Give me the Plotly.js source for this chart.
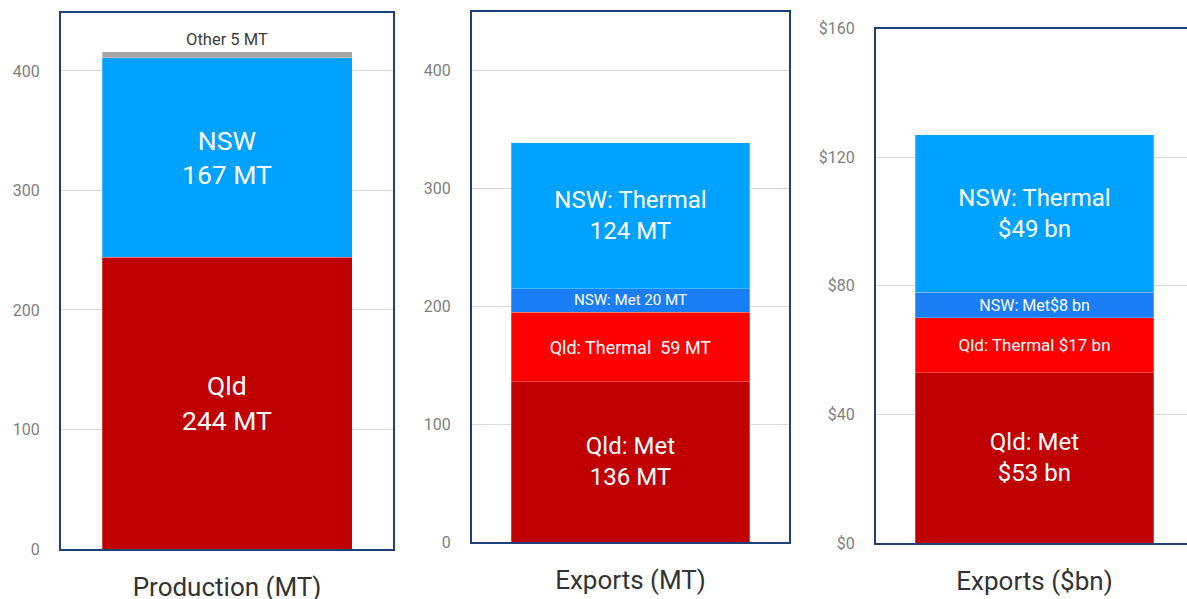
<!DOCTYPE html>
<html><head><meta charset="utf-8">
<script src="https://cdn.plot.ly/plotly-3.0.1.min.js"></script>
<style>html,body{margin:0;padding:0;background:#fff}#chart{width:1187px;height:599px}</style>
</head><body><div id="chart"></div>
<script>
// ---- data ----
const panelTitles = ["Production (MT)", "Exports (MT)", "Exports ($bn)"];

const prodNames = ["Qld", "NSW", "Other"];
const prodValues = [244, 167, 5];

const exportNames = ["Qld: Met", "Qld: Thermal", "NSW: Met", "NSW: Thermal"];
const exportMtValues = [136, 59, 20, 124];
const exportBnValues = [53, 17, 8, 49];

// ---- styles ----
const prodColors = ["#c00000", "#00a2ff", "#a6a6a6"];
const exportColors = ["#c00000", "#ff0000", "#1a7ef7", "#00a2ff"];
const prodSep = ["<br>", "<br>", " "];
const prodSize = [26.5, 26.5, 16.5];
const expMtSep = ["<br>", "  ", " ", "<br>"];
const expBnSep = ["<br>", " ", "", "<br>"];
const expMtSize = [24, 18, 15.5, 24];
const expBnSize = [24, 17, 16, 24];
const FONT = "Roboto, sans-serif";
const BW = 0.753;

const traces = [];
prodNames.forEach((n, i) => {
  const isOther = n === "Other";
  traces.push({
    type: "bar", x: [panelTitles[0]], y: [prodValues[i]], name: n,
    xaxis: "x", yaxis: "y", width: BW,
    marker: {color: prodColors[i], line: {color: "rgba(255,255,255,0.5)", width: 0.5}},
    text: [n + prodSep[i] + prodValues[i] + " MT"],
    textposition: isOther ? "outside" : "inside",
    insidetextanchor: "middle",
    textfont: {family: FONT, size: prodSize[i], color: isOther ? "#404040" : "#ffffff"},
    cliponaxis: false, hoverinfo: "skip"
  });
});
exportNames.forEach((n, i) => {
  traces.push({
    type: "bar", x: [panelTitles[1]], y: [exportMtValues[i]], name: n,
    xaxis: "x2", yaxis: "y2", width: BW,
    marker: {color: exportColors[i], line: {color: "rgba(255,255,255,0.5)", width: 0.5}},
    text: [n + expMtSep[i] + exportMtValues[i] + " MT"],
    textposition: "inside", insidetextanchor: "middle",
    textfont: {family: FONT, size: expMtSize[i], color: "#ffffff"},
    hoverinfo: "skip"
  });
});
exportNames.forEach((n, i) => {
  traces.push({
    type: "bar", x: [panelTitles[2]], y: [exportBnValues[i]], name: n,
    xaxis: "x3", yaxis: "y3", width: BW,
    marker: {color: exportColors[i], line: {color: "rgba(255,255,255,0.5)", width: 0.5}},
    text: [n + expBnSep[i] + "$" + exportBnValues[i] + " bn"],
    textposition: "inside", insidetextanchor: "middle",
    textfont: {family: FONT, size: expBnSize[i], color: "#ffffff"},
    hoverinfo: "skip"
  });
});

const W = 1187, H = 599;
const frame = "#1f3f78";
function xax(l, r, anchor, range, mirror) {
  return {domain: [l / W, r / W], anchor: anchor, type: "category", range: range,
    showgrid: false, zeroline: false, showline: true, linecolor: frame, linewidth: 2,
    mirror: mirror, ticks: "", ticklabelstandoff: 14,
    tickfont: {family: FONT, size: 26, color: "#333333"}, fixedrange: true};
}
function yax(top, bot, anchor, range, dtick, prefix, mirror) {
  return {domain: [(H - bot) / H, (H - top) / H], anchor: anchor, range: range,
    dtick: dtick, tick0: 0, tickprefix: prefix, showgrid: true, gridcolor: "#d9d9d9", gridwidth: 1,
    zeroline: false, showline: true, linecolor: frame, linewidth: 2, mirror: mirror,
    ticks: "", ticklabelstandoff: 16,
    tickfont: {family: "Roboto, sans-serif", size: 16, color: "#808080"}, fixedrange: true};
}

const layout = {
  width: W, height: H, margin: {l: 0, r: 0, t: 0, b: 0},
  paper_bgcolor: "#ffffff", plot_bgcolor: "#ffffff",
  barmode: "stack", showlegend: false,
  uniformtext: {mode: false},
  xaxis: xax(61, 393, "y", [-0.5, 0.5], true),
  yaxis: yax(13, 549, "x", [0, 448.5], 100, "", true),
  xaxis2: xax(472, 789, "y2", [-0.5, 0.5], true),
  yaxis2: yax(12, 542, "x2", [0, 450], 100, "", true),
  xaxis3: xax(876, 1187, "y3", [-0.5, 0.481], true),
  yaxis3: yax(28.5, 543, "x3", [0, 160], 40, "$", false)
};

Plotly.newPlot("chart", traces, layout, {displayModeBar: false, staticPlot: true});
</script></body></html>
